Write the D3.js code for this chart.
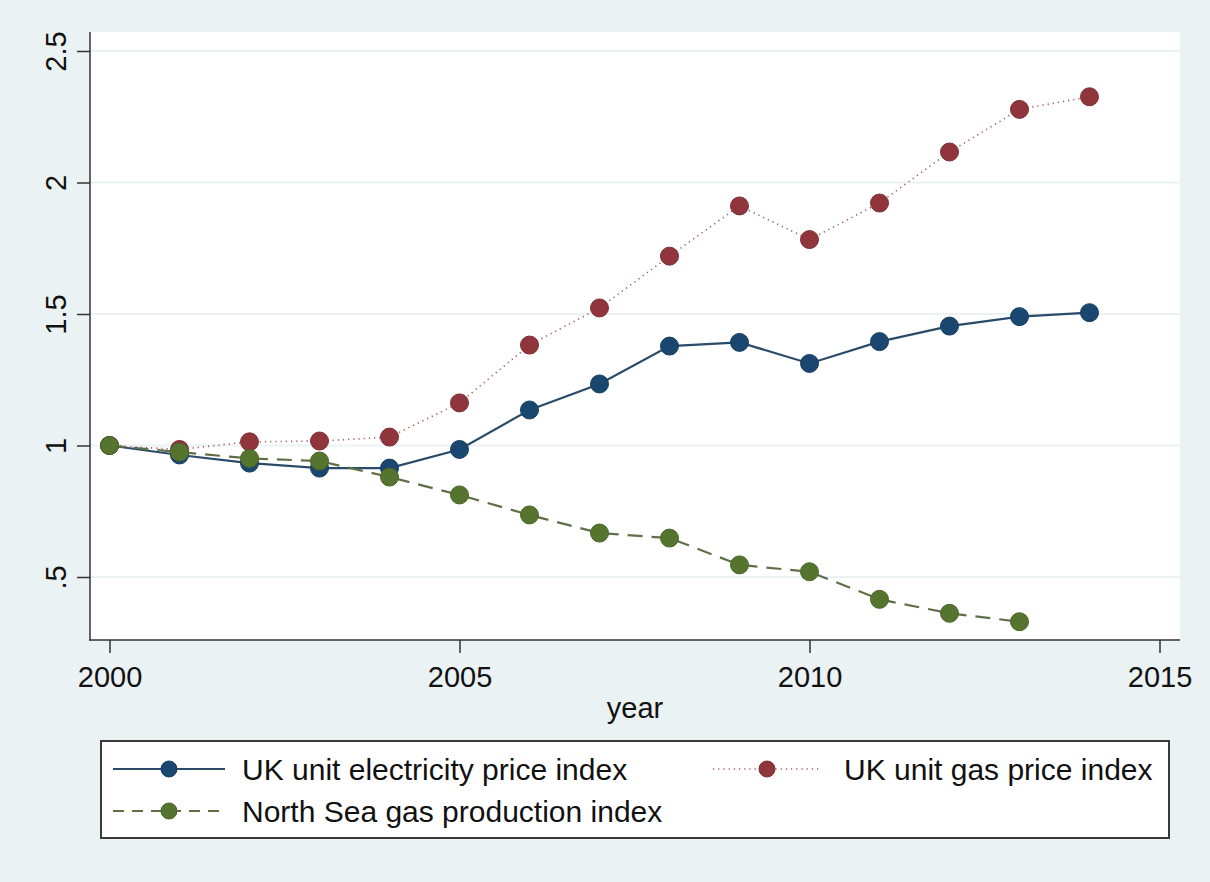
<!DOCTYPE html>
<html>
<head>
<meta charset="utf-8">
<script src="https://cdn.jsdelivr.net/npm/d3@7"></script>
<style>
  html, body { margin: 0; padding: 0; background: #eaf2f3; }
  svg { display: block; font-family: "Liberation Sans", Arial, sans-serif; }
</style>
</head>
<body>
<svg id="chart" width="1210" height="882"></svg>
<script>
// Annual indices, base year 2000 = 1
const years = [2000, 2001, 2002, 2003, 2004, 2005, 2006, 2007, 2008, 2009, 2010, 2011, 2012, 2013, 2014];
const electricityIndex = [1.000, 0.964, 0.933, 0.914, 0.914, 0.985, 1.135, 1.234, 1.378, 1.392, 1.312, 1.395, 1.454, 1.490, 1.505];
const gasPriceIndex    = [1.000, 0.985, 1.014, 1.017, 1.032, 1.162, 1.382, 1.523, 1.720, 1.911, 1.783, 1.922, 2.116, 2.278, 2.326];
const northSeaIndex    = [1.000, 0.975, 0.951, 0.941, 0.880, 0.812, 0.736, 0.667, 0.648, 0.546, 0.520, 0.415, 0.362, 0.330];

const xTickValues = [2000, 2005, 2010, 2015];
const xTickLabels = ["2000", "2005", "2010", "2015"];
const yTickValues = [0.5, 1, 1.5, 2, 2.5];
const yTickLabels = [".5", "1", "1.5", "2", "2.5"];

const seriesNames = ["UK unit electricity price index", "UK unit gas price index", "North Sea gas production index"];

const svg = d3.select("#chart");
const W = 1210, H = 882;

// Plot region
const plot = { left: 90, right: 1180, top: 32, bottom: 640 };

const x = d3.scaleLinear().domain([2000, 2015]).range([109.5, 1159.5]);
const y = d3.scaleLinear().domain([1, 2]).range([445.5, 182.5]);

svg.append("rect").attr("width", W).attr("height", H).attr("fill", "#eaf2f3");
svg.append("rect")
  .attr("x", plot.left).attr("y", plot.top)
  .attr("width", plot.right - plot.left).attr("height", plot.bottom - plot.top)
  .attr("fill", "#ffffff");

// Horizontal grid
svg.append("g").selectAll("line").data(yTickValues).join("line")
  .attr("x1", plot.left).attr("x2", plot.right)
  .attr("y1", d => y(d)).attr("y2", d => y(d))
  .attr("stroke", "#eaf2f3").attr("stroke-width", 2);

// Axes
const axisColor = "#333333";
const labelFont = "'Liberation Sans', Arial, sans-serif";
const yAxis = svg.append("g").attr("transform", `translate(${plot.left},0)`)
  .call(d3.axisLeft(y).tickValues(yTickValues).tickSize(13)
        .tickFormat((d, i) => yTickLabels[i]));
yAxis.select(".domain").remove();
yAxis.selectAll(".tick line").attr("stroke", axisColor).attr("stroke-width", 1.5);
yAxis.selectAll(".tick text")
  .attr("x", null)
  .attr("transform", "translate(-24,0) rotate(-90)")
  .attr("text-anchor", "middle")
  .attr("dy", "0")
  .attr("y", 0)
  .attr("fill", "#111")
  .style("font-size", "29px")
  .style("font-family", labelFont);
svg.append("line")
  .attr("x1", plot.left).attr("x2", plot.left)
  .attr("y1", plot.top).attr("y2", plot.bottom + 0.75)
  .attr("stroke", axisColor).attr("stroke-width", 1.5);

const xAxis = svg.append("g").attr("transform", `translate(0,${plot.bottom})`)
  .call(d3.axisBottom(x).tickValues(xTickValues).tickSize(13)
        .tickFormat((d, i) => xTickLabels[i]));
xAxis.select(".domain").remove();
xAxis.selectAll(".tick line").attr("stroke", axisColor).attr("stroke-width", 1.5);
xAxis.selectAll(".tick text")
  .attr("y", 47).attr("dy", null)
  .attr("fill", "#111")
  .style("font-size", "29px")
  .style("font-family", labelFont);
svg.append("line")
  .attr("x1", plot.left - 0.75).attr("x2", plot.right)
  .attr("y1", plot.bottom).attr("y2", plot.bottom)
  .attr("stroke", axisColor).attr("stroke-width", 1.5);

svg.append("text")
  .attr("x", (plot.left + plot.right) / 2).attr("y", 718)
  .attr("text-anchor", "middle")
  .attr("fill", "#111")
  .style("font-size", "29px")
  .text("year");

// Series
const navy = "#1a476f", maroon = "#90353b", green = "#55752f";
const series = [
  { name: seriesNames[0], values: electricityIndex, color: navy, dash: null, width: 2.2, lineColor: "#2a4a6a" },
  { name: seriesNames[1], values: gasPriceIndex, color: maroon, dash: "1.2,4", width: 1.6, lineColor: "#a05a5e" },
  { name: seriesNames[2], values: northSeaIndex, color: green, dash: "15,9", width: 2.2, lineColor: "#5f7048" }
];

const line = d3.line().x(d => x(d[0])).y(d => y(d[1]));

// draw order: electricity, gas, North Sea on top
series.forEach(s => {
  const pts = s.values.map((v, i) => [years[i], v]);
  const g = svg.append("g");
  g.append("path").datum(pts)
    .attr("d", line)
    .attr("fill", "none")
    .attr("stroke", s.lineColor)
    .attr("stroke-width", s.width)
    .attr("stroke-dasharray", s.dash);
  g.selectAll("circle").data(pts).join("circle")
    .attr("cx", d => x(d[0])).attr("cy", d => y(d[1]))
    .attr("r", 9)
    .attr("fill", s.color)
    .attr("stroke", d3.color(s.color).darker(0.4))
    .attr("stroke-width", 1);
});

// Legend
const legend = svg.append("g");
legend.append("rect")
  .attr("x", 101).attr("y", 741).attr("width", 1068).attr("height", 97)
  .attr("fill", "#ffffff").attr("stroke", "#3a3a3a").attr("stroke-width", 2);

const legendItems = [
  { s: series[0], x1: 113, x2: 225, y: 769, tx: 242 },
  { s: series[1], x1: 713, x2: 821, y: 769, tx: 844 },
  { s: series[2], x1: 113, x2: 225, y: 811, tx: 242 }
];
legendItems.forEach(it => {
  const mx = (it.x1 + it.x2) / 2;
  legend.append("line")
    .attr("x1", it.x1).attr("x2", it.x2).attr("y1", it.y).attr("y2", it.y)
    .attr("stroke", it.s.lineColor).attr("stroke-width", it.s.width)
    .attr("stroke-dasharray", it.s.dash === "15,9" ? "11,8" : it.s.dash);
  legend.append("circle")
    .attr("cx", mx).attr("cy", it.y).attr("r", 8)
    .attr("fill", it.s.color)
    .attr("stroke", d3.color(it.s.color).darker(0.4)).attr("stroke-width", 1);
  legend.append("text")
    .attr("x", it.tx).attr("y", it.y + 10.5)
    .attr("fill", "#111")
    .style("font-size", "30px")
    .text(it.s.name);
});
</script>
</body>
</html>
